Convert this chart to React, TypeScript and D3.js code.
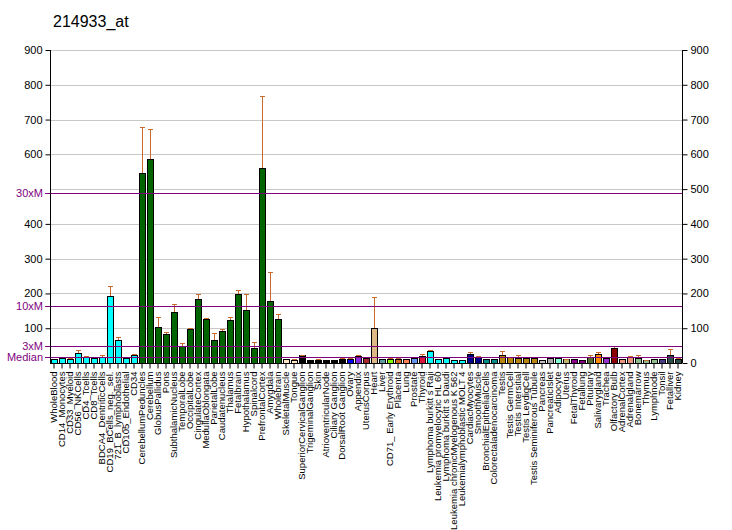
// @ts-nocheck
import React, { useRef, useEffect } from 'react';
import * as d3 from 'd3';

const title = "214933_at";

const tissues = [
  "WholeBlood", "CD14_Monocytes", "CD33_Myeloid", "CD56_NKCells", "CD4_Tcells", "CD8_Tcells",
  "BDCA4_DentriticCells", "CD19_BCells_neg._sel.", "721_B_lymphoblasts", "CD105_Endothelial", "CD34",
  "CerebellumPeduncles", "Cerebellum", "GlobusPallidus", "Pons", "SubthalamicNucleus", "TemporalLobe",
  "OccipitalLobe", "CingulateCortex", "MedullaOblongata", "ParietalLobe", "Caudatenucleus", "Thalamus",
  "Fetalbrain", "Hypothalamus", "Spinalcord", "PrefrontalCortex", "Amygdala", "Wholebrain",
  "SkeletalMuscle", "Tongue", "SuperiorCervicalGanglion", "TrigeminalGanglion", "Skin",
  "AtrioventricularNode", "Ciliary Ganglion", "DorsalRoot Ganglion", "Ovary", "Appendix", "UterusCorpus",
  "Heart", "Liver", "CD71_ Early Erythroid", "Placenta", "Lung", "Prostate", "Thyroid",
  "Lymphoma burkitt s Raji", "Leukemia promyelocytic HL 60", "Lymphoma burkitt s Daudi",
  "Leukemia chronicMyelogenous K 562", "Leukemialymphoblastic MOLT 4", "CardiacMyocytes", "SmoothMuscle",
  "BronchialEpithelialCells", "Colorectaladenocarcinoma", "Testis", "Testis GermCell", "Testis Intersitial",
  "Testis LeydigCell", "Testis Seminiferous Tubule", "Pancreas", "PancreaticIslet", "Adipocyte", "Uterus",
  "FetalThyroid", "Fetallung", "Pituitary", "Salivarygland", "Trachea", "Olfactory Bulb", "AdrenalCortex",
  "Adrenalgland", "Bonemarrow", "Thymus", "Lymphnode", "Tonsil", "Fetalliver", "Kidney"
];

const values = [
  11, 14, 11.5, 28, 18, 15, 17, 193, 66, 15, 23,
  545, 586, 104, 84, 147, 48, 98, 184, 127, 66, 92, 123, 198, 152, 43, 560, 178, 127,
  10.6, 8, 23, 8.6, 8.6, 8.6, 8.6, 12.5, 11.5, 19, 15, 100, 12.5, 11.5, 11.5, 11.5, 14, 19,
  34.5, 10.6, 14, 8, 8, 26, 16, 12.5, 10.6,
  23, 16, 13.4, 14.4, 14.4, 7.7, 15.3, 13.4, 10.6, 10.6, 7.7, 16, 26, 14.4, 42, 10.6, 17, 14.4, 7.7,
  10.6, 10.6, 23, 11
];

// top of the error whisker for each tissue
const errorTops = [
  11, 14, 14, 36, 19, 15, 22, 221, 74, 18, 26,
  678, 672, 132, 89, 171, 57, 100, 198, 128, 86, 98, 132, 209, 198, 60, 767, 261, 141,
  10.6, 11, 24, 8.6, 11, 8.6, 8.6, 15, 15, 24, 15, 190, 12.5, 15, 15, 11.5, 14, 27,
  37, 10.6, 14, 8, 8, 33, 19, 13, 10.6,
  33.6, 18, 22, 18, 18, 7.7, 15.3, 13.4, 12, 10.6, 7.7, 23, 31.6, 14.4, 49, 10.6, 19, 23, 9,
  10.6, 10.6, 39, 13
];

const barColors = [
  ...Array(11).fill("#00ffff"),
  ...Array(18).fill("#006400"),
  "#ffe4c4", "#ffe4c4",
  "#000000", "#000000", "#000000", "#000000", "#000000", "#000000",
  "#0000ff", "#8a2be2", "#a52a2a", "#deb887", "#5f9ea0", "#7fff00", "#d2691e", "#ff7f50", "#6495ed", "#dc143c",
  "#00ffff", "#00ffff", "#00ffff", "#00ffff", "#00ffff",
  "#00008b", "#00008b", "#008b8b", "#008b8b",
  "#b8860b", "#b8860b", "#b8860b", "#b8860b", "#b8860b",
  "#c0c0c0", "#a9a9a9", "#7fffd4", "#bdb76b", "#8b008b", "#8b008b", "#556b2f", "#ff8c00", "#9932cc", "#8b0000",
  "#e9967a", "#e9967a", "#8fbc8f", "#8fbc8f", "#8fbc8f", "#483d8b", "#2f4f4f", "#2f4f4f"
];

const yTicks = [0, 100, 200, 300, 400, 500, 600, 700, 800, 900];
const median = 16.3;
const refLines = [
  { label: "Median", value: median },
  { label: "3xM", value: median * 3 },
  { label: "10xM", value: median * 10 },
  { label: "30xM", value: median * 30 },
];

const App = () => {
  const svgRef = useRef(null);

  useEffect(() => {
    const svg = d3.select(svgRef.current);
    svg.selectAll('*').remove();
    const font = "'Liberation Sans', Arial, sans-serif";
    const left = 50, right = 682, top = 50, bottom = 363;

    const x = d3.scaleBand().domain(tissues).range([left, right]).padding(0);
    const y = d3.scaleLinear().domain([0, 900]).range([bottom, top]);

    svg.append("text")
      .attr("x", 53).attr("y", 27)
      .attr("font-family", font).attr("font-size", 16)
      .attr("fill", "#000")
      .text(title);

    // grid lines
    svg.append("g").selectAll("line").data(yTicks.filter(d => d > 0)).enter().append("line")
      .attr("x1", left).attr("x2", right)
      .attr("y1", d => Math.round(y(d)) + 0.5).attr("y2", d => Math.round(y(d)) + 0.5)
      .attr("stroke", "#c8c8c8").attr("stroke-width", 1);

    // bars
    const bw = x.bandwidth();
    svg.append("g").selectAll("rect").data(values).enter().append("rect")
      .attr("x", (d, i) => Math.round(x(tissues[i]) + 1) + 0.5)
      .attr("width", bw - 2)
      .attr("y", d => Math.round(y(d)) + 0.5)
      .attr("height", d => bottom - Math.round(y(d)))
      .attr("fill", (d, i) => barColors[i])
      .attr("stroke", "#000").attr("stroke-width", 1);

    // error whiskers
    const errs = svg.append("g").attr("stroke", "#c8692d").attr("stroke-width", 1);
    values.forEach((v, i) => {
      const e = errorTops[i];
      if (e - v < 0.8) return;
      const cx = Math.round(x(tissues[i]) + bw / 2) + 0.5;
      const yt = Math.round(y(e)) + 0.5;
      errs.append("line").attr("x1", cx).attr("x2", cx)
        .attr("y1", Math.round(y(v))).attr("y2", yt);
      errs.append("line").attr("x1", cx - 2.5).attr("x2", cx + 2.5)
        .attr("y1", yt).attr("y2", yt);
    });

    // median multiples
    svg.append("g").selectAll("line").data(refLines).enter().append("line")
      .attr("x1", left - 5).attr("x2", right)
      .attr("y1", d => Math.round(y(d.value)) + 0.5).attr("y2", d => Math.round(y(d.value)) + 0.5)
      .attr("stroke", "#800080").attr("stroke-width", 1);

    // left axis
    const leftAxis = svg.append("g")
      .attr("transform", `translate(${left + 0.5},0)`)
      .call(d3.axisLeft(y).tickValues(yTicks.filter(d => d !== 0 && d !== 500)).tickSize(5).tickPadding(3));
    leftAxis.select(".domain").attr("d", `M0,${top}V${bottom}`);
    leftAxis.selectAll("text").attr("font-family", font).attr("font-size", 11).attr("fill", "#000");
    leftAxis.selectAll("line").attr("stroke", "#000");

    svg.append("g").selectAll("text").data(refLines).enter().append("text")
      .attr("x", left - 7).attr("y", d => Math.round(y(d.value)))
      .attr("dy", "0.35em")
      .attr("text-anchor", "end")
      .attr("font-family", font).attr("font-size", 11)
      .attr("fill", "#800080")
      .text(d => d.label);

    // right axis
    const rightAxis = svg.append("g")
      .attr("transform", `translate(${right + 0.5},0)`)
      .call(d3.axisRight(y).tickValues(yTicks).tickSize(5).tickPadding(3));
    rightAxis.select(".domain").attr("d", `M0,${top}V${bottom}`);
    rightAxis.selectAll("text").attr("font-family", font).attr("font-size", 11).attr("fill", "#000");
    rightAxis.selectAll("line").attr("stroke", "#000");

    // bottom axis
    const bottomAxis = svg.append("g")
      .attr("transform", `translate(0,${bottom + 0.5})`)
      .call(d3.axisBottom(x).tickSize(5).tickPadding(3));
    bottomAxis.select(".domain").attr("d", `M${left},0H${right}`);
    bottomAxis.selectAll("line").attr("stroke", "#000");
    bottomAxis.selectAll("text")
      .attr("font-family", font).attr("font-size", 9.5).attr("fill", "#000")
      .attr("transform", "rotate(-90)")
      .attr("text-anchor", "end")
      .attr("x", -8).attr("y", 0).attr("dy", "0.35em");

    return () => {
      d3.select(svgRef.current).selectAll('*').remove();
    };
  }, []);

  return (
    <svg ref={svgRef} width={732} height={530}
      style={{ position: 'absolute', left: 0, top: 0, background: '#fff' }} />
  );
};

export default App;
